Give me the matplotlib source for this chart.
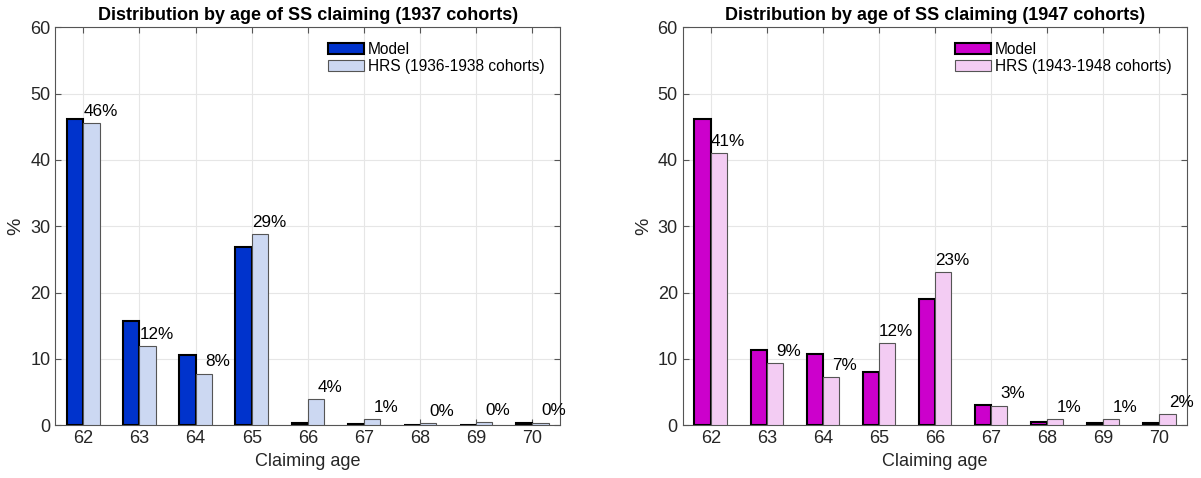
import numpy as np
import matplotlib
matplotlib.use('Agg')
import matplotlib.pyplot as plt

plt.rcParams['font.family'] = ['Liberation Sans', 'DejaVu Sans']

ages = [62, 63, 64, 65, 66, 67, 68, 69, 70]

# 1937 cohorts
model_1937 = [46.2, 15.7, 10.6, 26.9, 0.3, 0.15, 0.1, 0.1, 0.4]
hrs_1937 = [45.6, 11.9, 7.8, 28.8, 3.9, 0.9, 0.3, 0.5, 0.4]

# 1947 cohorts
model_1947 = [46.2, 11.4, 10.7, 8.1, 19.1, 3.05, 0.55, 0.4, 0.4]
hrs_1947 = [41.0, 9.4, 7.3, 12.4, 23.1, 2.95, 0.9, 0.9, 1.7]

titles = ['Distribution by age of SS claiming (1937 cohorts)',
          'Distribution by age of SS claiming (1947 cohorts)']
hrs_labels = ['HRS (1936-1938 cohorts)', 'HRS (1943-1948 cohorts)']
model_colors = ['#0033cc', '#cc00cc']
hrs_colors = ['#ccd8f2', '#f3ccf3']

fig = plt.figure(figsize=(12.01, 4.78), dpi=100)
ax1 = fig.add_axes([55.3 / 1201, 1 - 425.3 / 478, 505 / 1201, 398 / 478])
ax2 = fig.add_axes([682.7 / 1201, 1 - 425.3 / 478, 504.6 / 1201, 398 / 478])

x = np.array(ages, dtype=float)
w = 0.29
panels = [(ax1, model_1937, hrs_1937), (ax2, model_1947, hrs_1947)]
for i, (ax, model, hrs) in enumerate(panels):
    ax.bar(x - w / 2, model, width=w, color=model_colors[i], edgecolor='black',
           linewidth=1.5, label='Model', zorder=3)
    ax.bar(x + w / 2, hrs, width=w, color=hrs_colors[i], edgecolor='#555555',
           linewidth=0.8, label=hrs_labels[i], zorder=3)
    for xi, v in zip(x, hrs):
        ax.text(xi + w + 0.32, v + 1.1, f'{v:.0f}%', ha='right', va='baseline',
                fontsize=12.3, color='black', zorder=4)

    ax.set_xlim(61.5, 70.5)
    ax.set_ylim(0, 60)
    ax.set_xticks(ages)
    ax.set_yticks(range(0, 61, 10))
    ax.grid(True, color='#e6e6e6', linewidth=0.8, zorder=0)
    ax.set_axisbelow(True)
    ax.tick_params(direction='in', top=True, right=True, labelsize=13,
                   colors='#555555', labelcolor='#262626', length=4, width=0.8)
    for s in ax.spines.values():
        s.set_color('#555555')
        s.set_linewidth(0.8)
    ax.set_xlabel('Claiming age', fontsize=13, color='#262626', labelpad=4)
    ax.set_ylabel('%', fontsize=14, color='#262626')
    ax.set_title(titles[i], fontsize=13, fontweight='bold', pad=5)
    ax.legend(loc='upper left', bbox_to_anchor=(0.511, 1.0), frameon=False,
              fontsize=11.2, handlelength=2.3, handleheight=0.75,
              handletextpad=0.25, labelspacing=0.1, borderaxespad=0.55)

fig.savefig('out.png', dpi=100)
